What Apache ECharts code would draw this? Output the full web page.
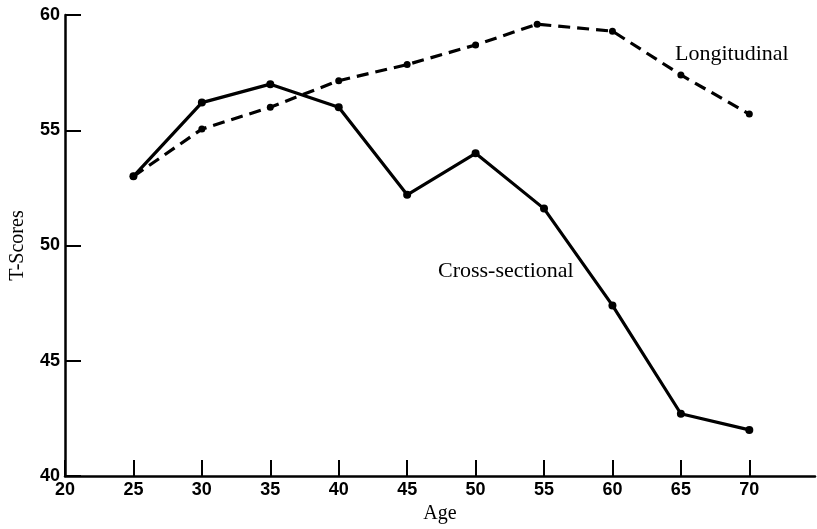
<!DOCTYPE html>
<html>
<head>
<meta charset="utf-8">
<script src="https://cdn.jsdelivr.net/npm/echarts@6/dist/echarts.min.js"></script>
<style>html,body{margin:0;padding:0;background:#fff}#c{width:817px;height:529px}</style>
</head>
<body>
<div id="c"></div>
<script>
const crossAges = [25, 30, 35, 40, 45, 50, 55, 60, 65, 70];
const crossScores = [53.0, 56.2, 57.0, 56.0, 52.2, 54.0, 51.6, 47.4, 42.7, 42.0];
const longAges = [25, 30, 35, 40, 45, 50, 54.5, 60, 65, 70];
const longScores = [53.0, 55.05, 56.0, 57.15, 57.85, 58.7, 59.6, 59.3, 57.4, 55.7];
const xTicks = [20, 25, 30, 35, 40, 45, 50, 55, 60, 65, 70];
const yTicks = [40, 45, 50, 55, 60];
const seriesNames = ['Cross-sectional', 'Longitudinal'];

const chart = echarts.init(document.getElementById('c'));
const serif = 'Liberation Serif';

chart.setOption({
  animation: false,
  backgroundColor: '#fff',
  grid: {left: 65, right: 2, top: 15, bottom: 53, containLabel: false, outerBoundsMode: 'none'},
  xAxis: {
    type: 'value', min: 20, max: 74.8, interval: 5,
    name: 'Age', nameLocation: 'middle', nameGap: 28,
    nameTextStyle: {fontFamily: serif, fontSize: 20, color: '#000'},
    axisLine: {show: true, lineStyle: {color: '#000', width: 2.5}},
    axisTick: {show: true, inside: true, length: 16, lineStyle: {color: '#000', width: 2}},
    axisLabel: {margin: 5, fontFamily: 'Liberation Sans', fontWeight: 'bold', fontSize: 18, color: '#000',
      showMaxLabel: false, formatter: v => xTicks.includes(v) ? String(v) : ''},
    splitLine: {show: false}
  },
  yAxis: {
    type: 'value', min: 40, max: 60, interval: 5,
    name: 'T-Scores', nameLocation: 'middle', nameGap: 37, nameRotate: 90,
    nameTextStyle: {fontFamily: serif, fontSize: 20, color: '#000'},
    axisLine: {show: true, lineStyle: {color: '#000', width: 2.5}},
    axisTick: {show: true, inside: true, length: 16, lineStyle: {color: '#000', width: 2}},
    axisLabel: {margin: 5, fontFamily: 'Liberation Sans', fontWeight: 'bold', fontSize: 18, color: '#000',
      formatter: v => yTicks.includes(v) ? String(v) : ''},
    splitLine: {show: false}
  },
  series: [
    {
      name: seriesNames[0], type: 'line',
      data: crossAges.map((a, i) => [a, crossScores[i]]),
      symbol: 'circle', symbolSize: 8,
      lineStyle: {color: '#000', width: 3.2},
      itemStyle: {color: '#000'}
    },
    {
      name: seriesNames[1], type: 'line',
      data: longAges.map((a, i) => [a, longScores[i]]),
      symbol: 'circle', symbolSize: 7,
      lineStyle: {color: '#000', width: 3.2, type: [12, 7]},
      itemStyle: {color: '#000'}
    }
  ],
  graphic: [
    {type: 'text', x: 675, y: 54, style: {text: seriesNames[1], font: '22px "Liberation Serif"', fill: '#000', textVerticalAlign: 'middle'}},
    {type: 'text', x: 438, y: 271, style: {text: seriesNames[0], font: '22px "Liberation Serif"', fill: '#000', textVerticalAlign: 'middle'}}
  ]
});
</script>
</body>
</html>
